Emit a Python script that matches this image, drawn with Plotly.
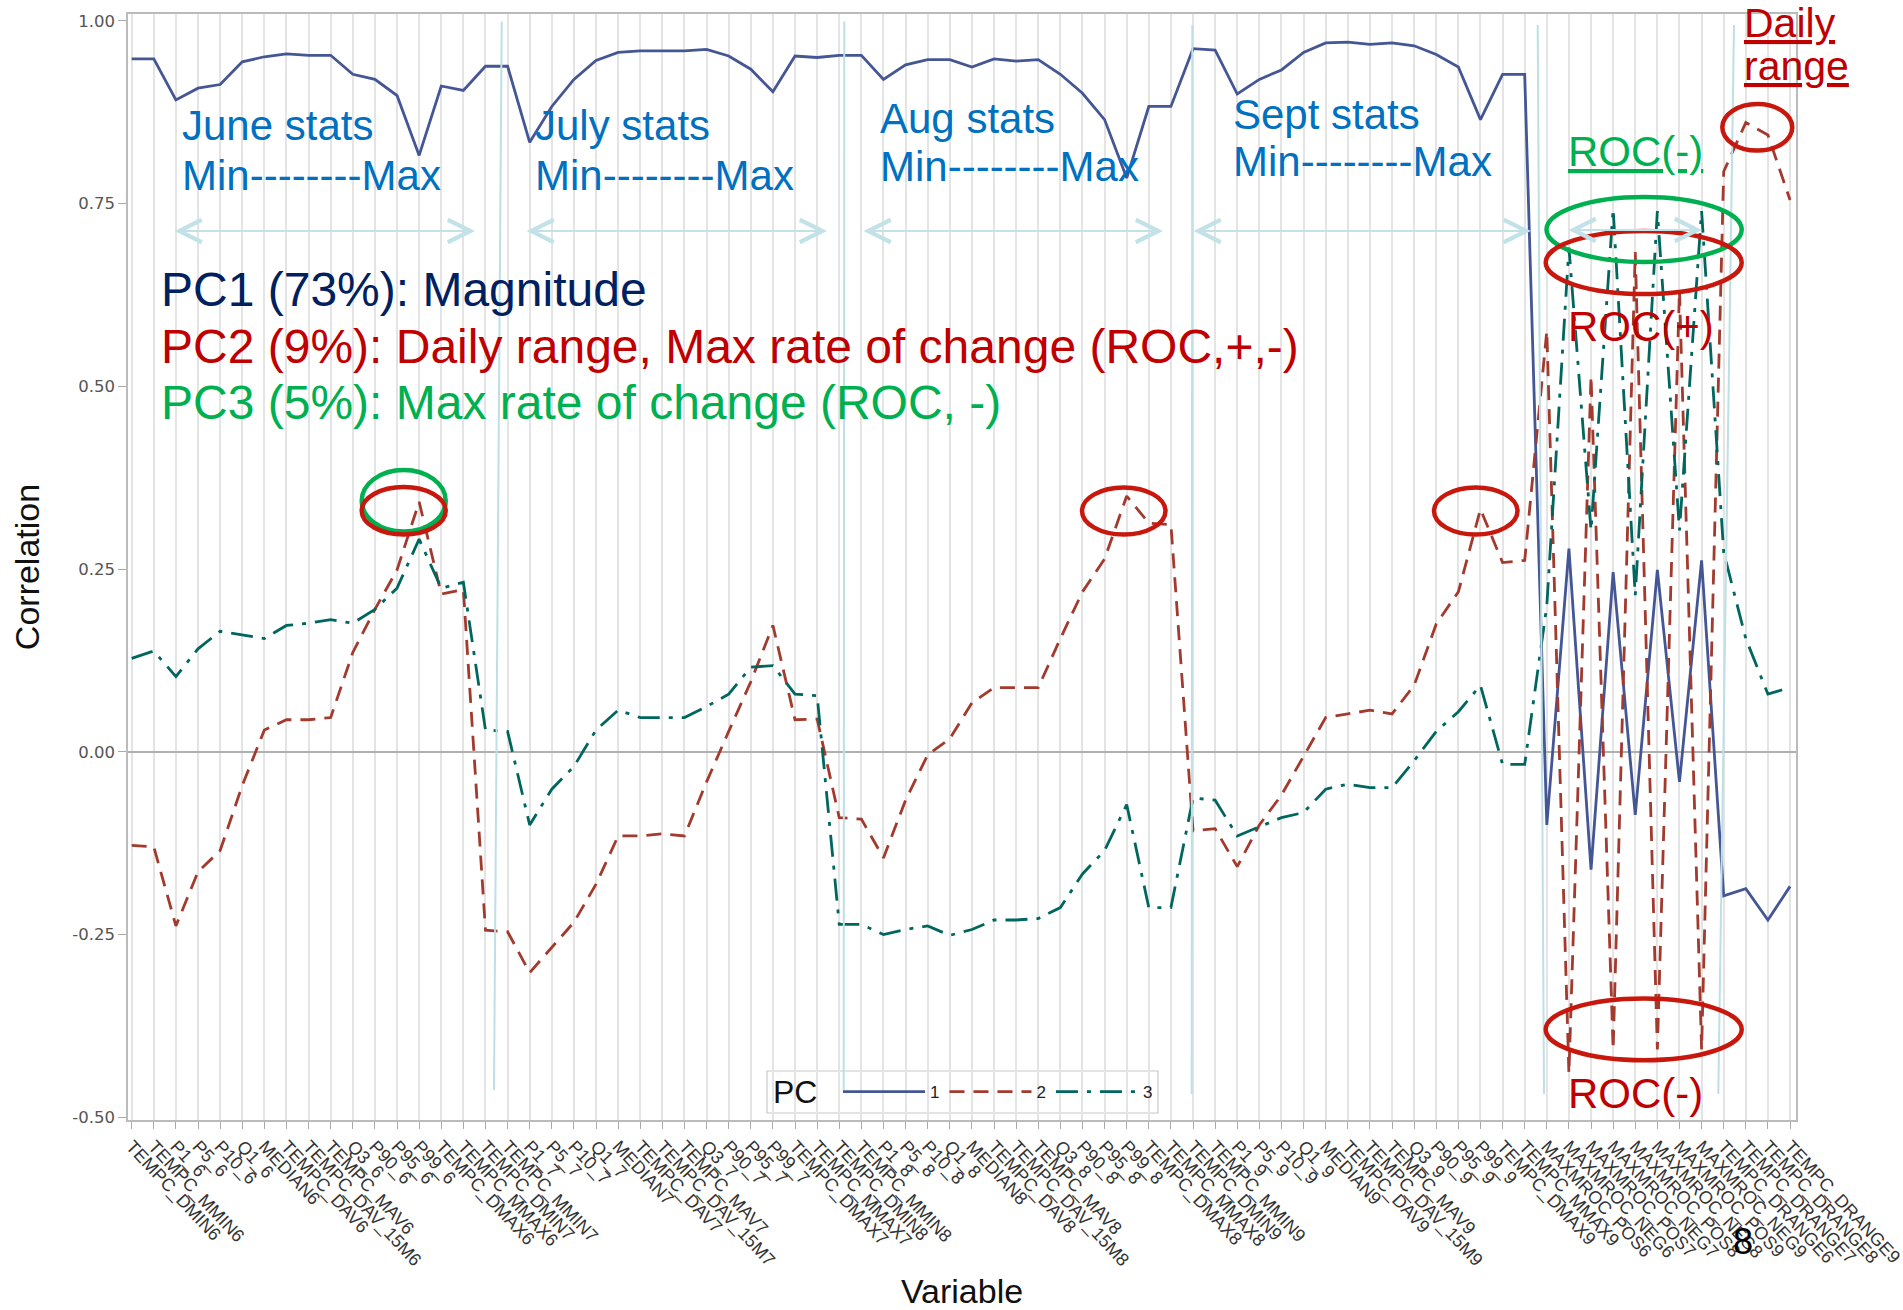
import plotly.graph_objects as go

# ---------------- data ----------------
categories = [
    "TEMPC_DMIN6", "TEMPC_MMIN6", "P1_6", "P5_6", "P10_6", "Q1_6", "MEDIAN6", "TEMPC_DAV6",
    "TEMPC_DAV_15M6", "TEMPC_MAV6", "Q3_6", "P90_6", "P95_6", "P99_6", "TEMPC_DMAX6", "TEMPC_MMAX6",
    "TEMPC_DMIN7", "TEMPC_MMIN7", "P1_7", "P5_7", "P10_7", "Q1_7", "MEDIAN7", "TEMPC_DAV7",
    "TEMPC_DAV_15M7", "TEMPC_MAV7", "Q3_7", "P90_7", "P95_7", "P99_7", "TEMPC_DMAX7", "TEMPC_MMAX7",
    "TEMPC_DMIN8", "TEMPC_MMIN8", "P1_8", "P5_8", "P10_8", "Q1_8", "MEDIAN8", "TEMPC_DAV8",
    "TEMPC_DAV_15M8", "TEMPC_MAV8", "Q3_8", "P90_8", "P95_8", "P99_8", "TEMPC_DMAX8", "TEMPC_MMAX8",
    "TEMPC_DMIN9", "TEMPC_MMIN9", "P1_9", "P5_9", "P10_9", "Q1_9", "MEDIAN9", "TEMPC_DAV9",
    "TEMPC_DAV_15M9", "TEMPC_MAV9", "Q3_9", "P90_9", "P95_9", "P99_9", "TEMPC_DMAX9", "TEMPC_MMAX9",
    "MAXMROC_POS6", "MAXMROC_NEG6", "MAXMROC_POS7", "MAXMROC_NEG7",
    "MAXMROC_POS8", "MAXMROC_NEG8", "MAXMROC_POS9", "MAXMROC_NEG9",
    "TEMPC_DRANGE6", "TEMPC_DRANGE7", "TEMPC_DRANGE8", "TEMPC_DRANGE9",
]

pc1 = [
    0.948, 0.948, 0.892, 0.908, 0.913, 0.944, 0.951, 0.955, 0.953, 0.953, 0.927, 0.920, 0.898, 0.816, 0.911, 0.905,
    0.938, 0.938, 0.834, 0.883, 0.920, 0.946, 0.957, 0.959, 0.959, 0.959, 0.961, 0.952, 0.934, 0.903, 0.952, 0.950,
    0.953, 0.953, 0.920, 0.940, 0.947, 0.947, 0.937, 0.948, 0.945, 0.947, 0.927, 0.901, 0.865, 0.785, 0.883, 0.883,
    0.962, 0.960, 0.900, 0.920, 0.933, 0.957, 0.970, 0.971, 0.968, 0.970, 0.966, 0.954, 0.937, 0.865, 0.927, 0.927,
    -0.100, 0.278, -0.161, 0.246, -0.086, 0.249, -0.041, 0.262,
    -0.197, -0.187, -0.230, -0.184,
]

pc2 = [
    -0.128, -0.130, -0.238, -0.164, -0.135, -0.046, 0.030, 0.044, 0.044, 0.047, 0.136, 0.195, 0.249, 0.342, 0.216, 0.222,
    -0.244, -0.246, -0.302, -0.267, -0.233, -0.181, -0.115, -0.115, -0.112, -0.115, -0.041, 0.028, 0.096, 0.173, 0.044, 0.045,
    -0.090, -0.092, -0.145, -0.066, -0.004, 0.018, 0.067, 0.088, 0.088, 0.088, 0.155, 0.219, 0.264, 0.350, 0.313, 0.311,
    -0.108, -0.105, -0.157, -0.100, -0.059, -0.007, 0.047, 0.052, 0.057, 0.052, 0.091, 0.175, 0.219, 0.332, 0.259, 0.262,
    0.576, -0.440, 0.514, -0.407, 0.684, -0.407, 0.632, -0.407,
    0.794, 0.861, 0.844, 0.755,
]

pc3 = [
    0.128, 0.138, 0.103, 0.141, 0.165, 0.160, 0.155, 0.173, 0.176, 0.181, 0.176, 0.195, 0.224, 0.291, 0.224, 0.232,
    0.030, 0.028, -0.100, -0.051, -0.020, 0.030, 0.057, 0.047, 0.047, 0.047, 0.062, 0.079, 0.116, 0.118, 0.079, 0.077,
    -0.236, -0.236, -0.250, -0.243, -0.238, -0.251, -0.243, -0.230, -0.230, -0.228, -0.213, -0.167, -0.135, -0.072, -0.213, -0.213,
    -0.063, -0.066, -0.115, -0.102, -0.090, -0.083, -0.051, -0.044, -0.049, -0.049, -0.012, 0.028, 0.055, 0.091, -0.017, -0.017,
    0.200, 0.690, 0.303, 0.743, 0.214, 0.740, 0.303, 0.740,
    0.273, 0.155, 0.079, 0.088,
]

series_names = ["1", "2", "3"]
legend_title = "PC"
y_tickvals = [-0.5, -0.25, 0.0, 0.25, 0.5, 0.75, 1.0]
y_ticktext = ["-0.50", "-0.25", "0.00", "0.25", "0.50", "0.75", "1.00"]

# ---------------- layout geometry ----------------
W, H = 1903, 1310
ML, MR, MT, MB = 128, 107, 14, 190
L, R, T, B = ML, W - MR, MT, H - MB
FONT = "Liberation Sans, Arial, sans-serif"


def px(x):
    return (x - L) / (R - L)


def py(y):
    return (B - y) / (B - T)


fig = go.Figure()
fig.add_trace(go.Scatter(x=categories, y=pc1, mode="lines", name=series_names[0],
                         line=dict(color="#445694", width=2.8)))
fig.add_trace(go.Scatter(x=categories, y=pc2, mode="lines", name=series_names[1],
                         line=dict(color="#A23A2E", width=2.8, dash="15px,9px")))
fig.add_trace(go.Scatter(x=categories, y=pc3, mode="lines", name=series_names[2],
                         line=dict(color="#01665E", width=2.8, dash="22px,9px,4px,9px")))

annotations = []


def add_text(s, x, baseline, size, color, underline=False):
    annotations.append(dict(
        text=f"<u>{s}</u>" if underline else s,
        xref="paper", yref="paper", x=px(x), y=py(baseline - 0.3465 * size),
        xanchor="left", yanchor="middle", showarrow=False, borderpad=0, borderwidth=0,
        font=dict(family=FONT, size=size, color=color)))


STAT = "#0070C0"
add_text("June stats", 182, 140, 42, STAT)
add_text("Min--------Max", 182, 190, 42, STAT)
add_text("July stats", 535, 140, 42, STAT)
add_text("Min--------Max", 535, 190, 42, STAT)
add_text("Aug stats", 880, 133, 42, STAT)
add_text("Min--------Max", 880, 181, 42, STAT)
add_text("Sept stats", 1233, 129, 42, STAT)
add_text("Min--------Max", 1233, 176, 42, STAT)

add_text("PC1 (73%): Magnitude", 161, 306, 48, "#002060")
add_text("PC2 (9%): Daily range, Max rate of change (ROC,+,-)", 161, 363, 48, "#C00000")
add_text("PC3 (5%): Max rate of change (ROC, -)", 161, 419, 48, "#00B050")

add_text("ROC(-)", 1568, 166, 42, "#00B050", underline=True)
add_text("ROC(+)", 1568, 341, 42, "#C00000")
add_text("ROC(-)", 1568, 1108, 42, "#C00000")
add_text("Daily", 1744, 37, 41, "#C00000", underline=True)
add_text("range", 1744, 80, 41, "#C00000", underline=True)

# legend title (legend box drawn as a shape so it encloses title + items)
add_text(legend_title, 773, 1103.5, 32, "#111111")

# slide number
annotations.append(dict(text="8", xref="paper", yref="paper", x=px(1743), y=py(1241),
                        xanchor="center", yanchor="middle", showarrow=False,
                        font=dict(family=FONT, size=36, color="#000000")))

# double-headed arrows
ARROW = "#C3E2E8"
for x0, x1, yy in [(173, 475, 231), (525, 827, 231), (862, 1163, 231),
                   (1192, 1531, 231), (1567, 1702, 230)]:
    annotations.append(dict(
        text="", xref="paper", yref="paper", x=px(x1), y=py(yy),
        ax=x0 - x1, ay=0, showarrow=True, arrowside="end+start",
        arrowhead=5, startarrowhead=5, arrowsize=2.2, startarrowsize=2.2,
        arrowwidth=2, arrowcolor=ARROW, standoff=0, startstandoff=0))

shapes = []
# legend frame (white, above gridlines, below traces)
shapes.append(dict(type="rect", xref="paper", yref="paper",
                   x0=px(767), x1=px(1158), y0=py(1113), y1=py(1071),
                   fillcolor="white", line=dict(color="#C8C8C8", width=1.2), layer="between"))

# cyan vertical separators
for (xa, ya, xb, yb) in [(501.7, 21.5, 494, 1090), (844.3, 21.5, 843.7, 1090),
                         (1192.3, 25, 1191.7, 1094), (1537.7, 25, 1544, 1094),
                         (1734, 25, 1718.3, 1094)]:
    shapes.append(dict(type="line", xref="paper", yref="paper",
                       x0=px(xa), y0=py(ya), x1=px(xb), y1=py(yb),
                       line=dict(color="#BDDFE5", width=2), layer="above"))

RED = "#C8170C"
GREEN = "#00B050"
for (x0, y0, x1, y1, col) in [
    (361.7, 470, 445.7, 531.6, GREEN),
    (361.7, 487, 445.7, 534.5, RED),
    (1082, 487.5, 1165.5, 534.5, RED),
    (1434, 487.5, 1517.5, 534.5, RED),
    (1546.5, 197, 1741.7, 262, GREEN),
    (1545.7, 231, 1741.7, 294, RED),
    (1545.7, 998.6, 1741.7, 1060.3, RED),
    (1722.3, 104, 1792.3, 150.6, RED),
]:
    shapes.append(dict(type="circle", xref="paper", yref="paper",
                       x0=px(x0), x1=px(x1), y0=py(y1), y1=py(y0),
                       line=dict(color=col, width=4.5), layer="above"))

fig.update_layout(
    width=W, height=H,
    margin=dict(l=ML, r=MR, t=MT, b=MB, autoexpand=False),
    paper_bgcolor="white", plot_bgcolor="white",
    font=dict(family=FONT, color="#222222"),
    showlegend=True,
    legend=dict(orientation="h", x=px(838), y=py(1092), xanchor="left", yanchor="middle",
                bgcolor="rgba(0,0,0,0)", borderwidth=0,
                font=dict(family=FONT, size=17, color="#222222"),
                itemwidth=82),
    annotations=annotations,
    shapes=shapes,
    xaxis=dict(
        type="category", range=[-0.167, 75.27],
        tickmode="array", tickvals=categories, ticktext=categories,
        tickangle=47, tickfont=dict(family=FONT, size=18, color="#333333"),
        ticks="outside", ticklen=7, tickcolor="#AAAAAA", tickwidth=1,
        showgrid=True, gridcolor="#E4E4E4", gridwidth=1.5,
        showline=True, linecolor="#BBBBBB", linewidth=1.5, mirror=True,
        title=dict(text="Variable", font=dict(family=FONT, size=34, color="#111111")),
        zeroline=False,
    ),
    yaxis=dict(
        range=[-0.5036, 1.0095],
        tickmode="array", tickvals=y_tickvals, ticktext=y_ticktext,
        tickfont=dict(family="DejaVu Sans", size=16.5, color="#555555"),
        ticks="outside", ticklen=8, tickcolor="#AAAAAA", tickwidth=1,
        showgrid=False,
        zeroline=True, zerolinecolor="#B0B0B0", zerolinewidth=1.5,
        showline=True, linecolor="#BBBBBB", linewidth=1.5, mirror=True,
        title=dict(text="Correlation", standoff=22,
                   font=dict(family=FONT, size=34, color="#111111")),
    ),
)

fig.write_html("out.html")
